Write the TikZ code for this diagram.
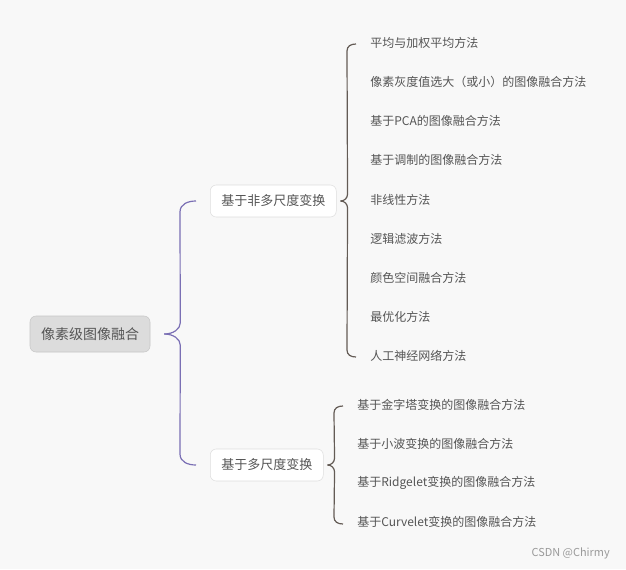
\documentclass[tikz,border=0pt]{standalone}
\usepackage{fontspec}
\setmainfont{Noto Sans CJK SC}
\usepackage{xcolor}
\usetikzlibrary{calc}
\definecolor{bgc}{HTML}{F8F8F8}
\definecolor{txt}{HTML}{555555}
\definecolor{rootfill}{HTML}{DCDCDC}
\definecolor{rootline}{HTML}{C6C6C6}
\definecolor{midline}{HTML}{DEDEDE}
\definecolor{purp}{HTML}{7A6FB4}
\definecolor{brownline}{HTML}{635B55}

\begin{document}
\begin{tikzpicture}[x=0.75pt,y=-0.75pt,
  rootnode/.style={draw=rootline,fill=rootfill,rounded corners=4.5pt,minimum width=90pt,
    minimum height=27pt,inner sep=0pt,text=txt,font=\fontsize{10.5pt}{12pt}\selectfont},
  midnode/.style={draw=midline,fill=white,rounded corners=4.5pt,anchor=west,inner xsep=8.25pt,
    inner ysep=0pt,minimum height=24pt,text=txt,font=\fontsize{9.75pt}{12pt}\selectfont},
  leaf/.style={anchor=west,inner sep=0pt,text=txt,font=\fontsize{9pt}{11pt}\selectfont},
  rootbrace/.style={draw=purp,line width=0.9pt},
  subbrace/.style={draw=brownline,line width=0.9pt}]
  \useasboundingbox[fill=bgc] (0,0) rectangle (626,569);

  % nodes
  \node[rootnode] (root) at (90,334) {像素级图像融合};
  \node[midnode] (nonms) at (210,201) {基于非多尺度变换};
  \node[midnode] (ms) at (210,465) {基于多尺度变换};
  \foreach \i/\lab in {1/平均与加权平均方法,2/像素灰度值选大（或小）的图像融合方法,3/基于PCA的图像融合方法,
      4/基于调制的图像融合方法,5/非线性方法,6/逻辑滤波方法,7/颜色空间融合方法,8/最优化方法,9/人工神经网络方法}
    {\node[leaf] (a\i) at (370,{43+39.125*(\i-1)}) {\lab};}
  \foreach \i/\lab in {1/基于金字塔变换的图像融合方法,2/基于小波变换的图像融合方法,
      3/基于Ridgelet变换的图像融合方法,4/基于Curvelet变换的图像融合方法}
    {\node[leaf] (b\i) at (357,{405+39*(\i-1)}) {\lab};}

  % braces
  \coordinate (rtip) at ($(root.east)+(14,0)$);
  \coordinate (rtop) at ($(nonms.west)+(-14,0)$);
  \coordinate (rbot) at ($(ms.west)+(-14,0)$);
  \draw[rootbrace] (rtip) .. controls ($(rtip)+(9,0)$) and ($(rtip)+(16,-5)$) .. ($(rtip)+(16,-11)$)
    -- ($(rtop)+(-16,11)$) .. controls ($(rtop)+(-16,3)$) and ($(rtop)+(-8,0)$) .. (rtop);
  \draw[rootbrace] (rtip) .. controls ($(rtip)+(9,0)$) and ($(rtip)+(16,5)$) .. ($(rtip)+(16,11)$)
    -- ($(rbot)+(-16,-11)$) .. controls ($(rbot)+(-16,-3)$) and ($(rbot)+(-8,0)$) .. (rbot);

  \coordinate (atip) at ($(nonms.east)+(4,0)$);
  \coordinate (atop) at ($(a1.west)+(-14,1)$);
  \coordinate (abot) at ($(a9.west)+(-14,1)$);
  \draw[subbrace] (atip) .. controls ($(atip)+(4,0)$) and ($(atip)+(7,-3)$) .. ($(atip)+(7,-7)$)
    -- ($(atop)+(-9,7)$) .. controls ($(atop)+(-9,2)$) and ($(atop)+(-5,0)$) .. (atop);
  \draw[subbrace] (atip) .. controls ($(atip)+(4,0)$) and ($(atip)+(7,3)$) .. ($(atip)+(7,7)$)
    -- ($(abot)+(-9,-7)$) .. controls ($(abot)+(-9,-2)$) and ($(abot)+(-5,0)$) .. (abot);

  \coordinate (btip) at ($(ms.east)+(4,0)$);
  \coordinate (btop) at ($(b1.west)+(-14,1)$);
  \coordinate (bbot) at ($(b4.west)+(-14,2)$);
  \draw[subbrace] (btip) .. controls ($(btip)+(4,0)$) and ($(btip)+(7,-3)$) .. ($(btip)+(7,-7)$)
    -- ($(btop)+(-9,7)$) .. controls ($(btop)+(-9,2)$) and ($(btop)+(-5,0)$) .. (btop);
  \draw[subbrace] (btip) .. controls ($(btip)+(4,0)$) and ($(btip)+(7,3)$) .. ($(btip)+(7,7)$)
    -- ($(bbot)+(-9,-7)$) .. controls ($(bbot)+(-9,-2)$) and ($(bbot)+(-5,0)$) .. (bbot);

  \node[anchor=east,inner sep=0pt,text=black!40,font=\fontsize{8.2pt}{10pt}\selectfont] (mark) at (610,553) {CSDN @Chirmy};
\end{tikzpicture}
\end{document}
